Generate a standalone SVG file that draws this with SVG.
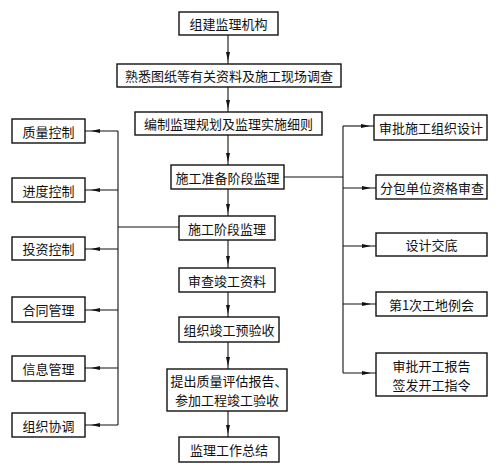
<svg xmlns="http://www.w3.org/2000/svg" width="497" height="473" viewBox="0 0 497 473">
<style>
rect{fill:#fff;stroke:#111;stroke-width:1.4}
text{font-family:"Noto Sans CJK SC","Noto Sans",sans-serif;font-size:13px;fill:#111;text-anchor:middle;dominant-baseline:central}
.c path{fill:none;stroke:#111;stroke-width:1.1}
.c path.a{marker-mid:url(#ah)}
</style>
<defs>
<marker id="ah" viewBox="0 0 9 4" refX="9" refY="2" markerWidth="9" markerHeight="4" orient="auto" markerUnits="userSpaceOnUse"><path d="M0,0 L9,2 L0,4 z" fill="#111"/></marker>
</defs>
<rect x="0" y="0" width="497" height="473" style="stroke:none"/>
<g class="c" id="connectors">
<path class="a" d="M228,35 L228,61 L228,64"/>
<path class="a" d="M228,87 L228,109 L228,112"/>
<path class="a" d="M228,135 L228,162 L228,165"/>
<path class="a" d="M228,189 L228,213 L228,216"/>
<path class="a" d="M228,240 L228,265 L228,268"/>
<path class="a" d="M228,292 L228,314 L228,317"/>
<path class="a" d="M228,342 L228,366 L228,369"/>
<path class="a" d="M228,411 L228,434 L228,437"/>
<path d="M118,131 L118,425"/>
<path d="M179,227 L118,227"/>
<path class="a" d="M118,131 L91,131 L85,131"/>
<path class="a" d="M118,190 L91,190 L85,190"/>
<path class="a" d="M118,249 L91,249 L85,249"/>
<path class="a" d="M118,310 L91,310 L85,310"/>
<path class="a" d="M118,368 L91,368 L85,368"/>
<path class="a" d="M118,425 L91,425 L85,425"/>
<path d="M343,126 L343,373"/>
<path d="M284,177 L343,177"/>
<path class="a" d="M343,126 L370,126 L374,126"/>
<path class="a" d="M343,188 L371,188 L376,188"/>
<path class="a" d="M343,246 L371,246 L376,246"/>
<path class="a" d="M343,304 L371,304 L376,304"/>
<path class="a" d="M343,373 L371,373 L376,373"/>
</g>
<g id="n1"><rect x="179" y="12" width="99" height="23"/><text x="228.5" y="23.5">组建监理机构</text></g>
<g id="n2"><rect x="117" y="64" width="224" height="23"/><text x="229" y="75.5">熟悉图纸等有关资料及施工现场调查</text></g>
<g id="n3"><rect x="135" y="112" width="187" height="23"/><text x="228.5" y="123.5">编制监理规划及监理实施细则</text></g>
<g id="n4"><rect x="171" y="165" width="113" height="24"/><text x="227.5" y="177">施工准备阶段监理</text></g>
<g id="n5"><rect x="179" y="216" width="96" height="24"/><text x="227" y="228">施工阶段监理</text></g>
<g id="n6"><rect x="179" y="268" width="96" height="24"/><text x="227" y="280">审查竣工资料</text></g>
<g id="n7"><rect x="179" y="317" width="100" height="25"/><text x="229" y="329.5">组织竣工预验收</text></g>
<g id="n8"><rect x="167" y="369" width="120" height="42"/><text x="229" y="380.5">提出质量评估报告、</text><text x="227" y="399.5">参加工程竣工验收</text></g>
<g id="n9"><rect x="179" y="437" width="100" height="25"/><text x="229" y="449.5">监理工作总结</text></g>
<g id="l1"><rect x="12" y="119" width="73" height="24"/><text x="48.5" y="131">质量控制</text></g>
<g id="l2"><rect x="12" y="178" width="73" height="24"/><text x="48.5" y="190">进度控制</text></g>
<g id="l3"><rect x="12" y="237" width="73" height="23"/><text x="48.5" y="248.5">投资控制</text></g>
<g id="l4"><rect x="12" y="297" width="73" height="25"/><text x="48.5" y="309.5">合同管理</text></g>
<g id="l5"><rect x="12" y="356" width="73" height="25"/><text x="48.5" y="368.5">信息管理</text></g>
<g id="l6"><rect x="12" y="413" width="73" height="24"/><text x="48.5" y="425">组织协调</text></g>
<g id="r1"><rect x="374" y="115" width="113" height="25"/><text x="431" y="127.5">审批施工组织设计</text></g>
<g id="r2"><rect x="376" y="175" width="111" height="24"/><text x="432" y="187">分包单位资格审查</text></g>
<g id="r3"><rect x="376" y="233" width="111" height="23"/><text x="431.5" y="244.5">设计交底</text></g>
<g id="r4"><rect x="376" y="292" width="111" height="24"/><text x="431.5" y="304">第1次工地例会</text></g>
<g id="r5"><rect x="376" y="353" width="111" height="43"/><text x="431.5" y="365">审批开工报告</text><text x="431.5" y="384">签发开工指令</text></g>
</svg>
